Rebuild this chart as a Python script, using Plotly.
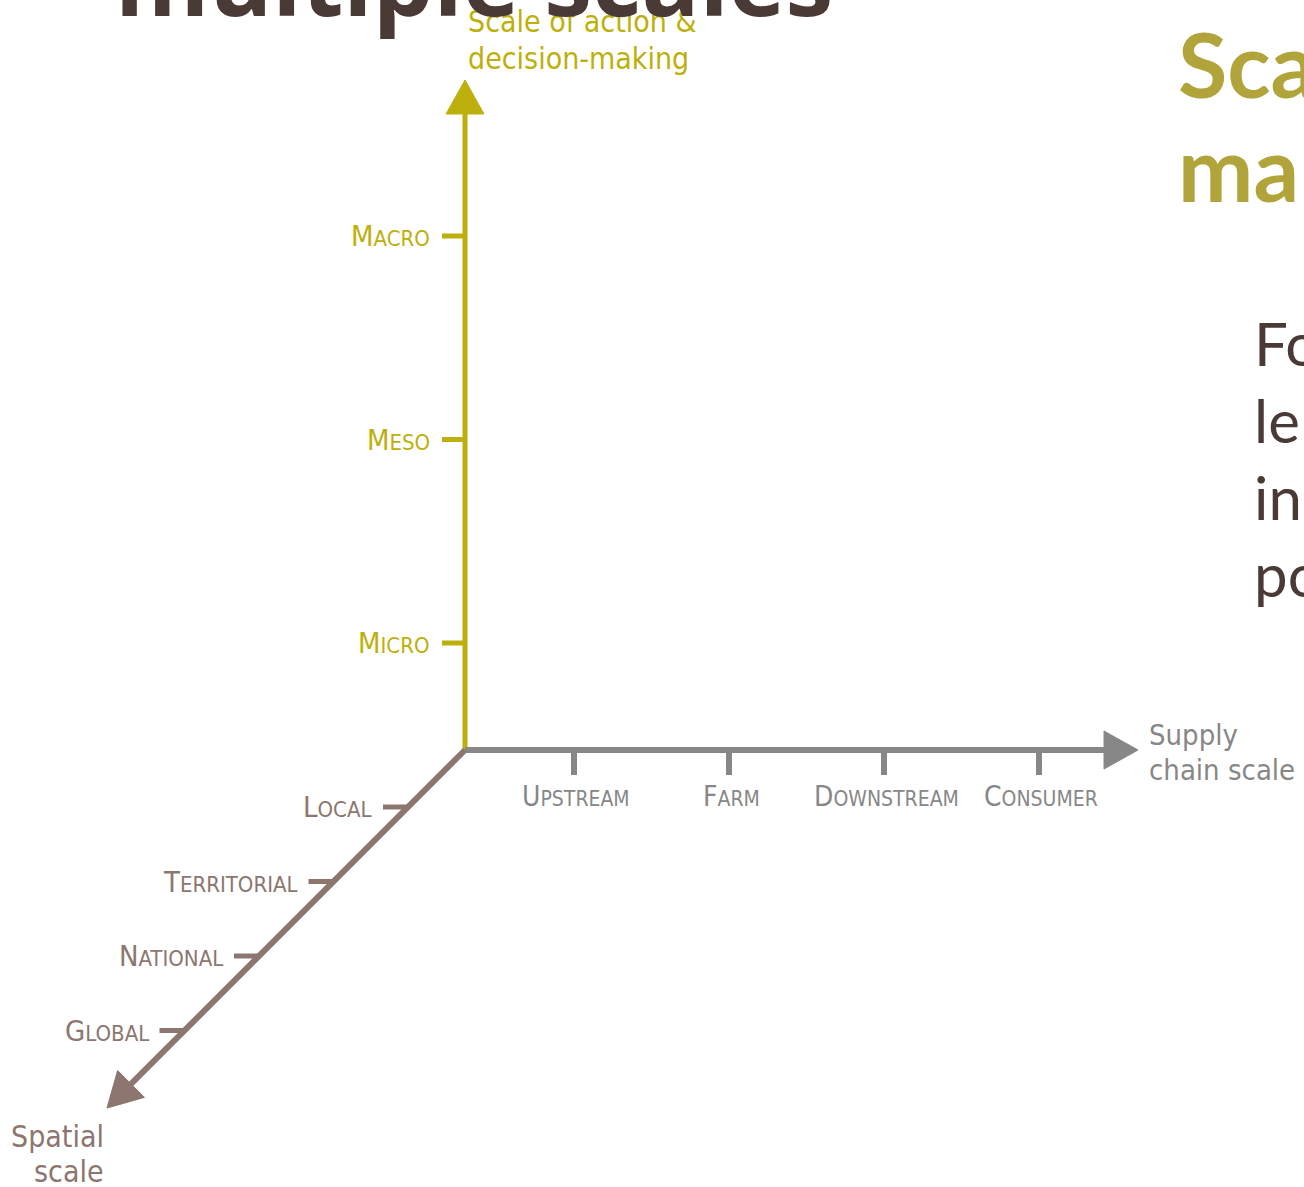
import plotly.graph_objects as go
import numpy as np

# ---------------- data (categories / text) ----------------
action_levels = ["Micro", "Meso", "Macro"]
supply_stages = ["Upstream", "Farm", "Downstream", "Consumer"]
spatial_levels = ["Local", "Territorial", "National", "Global"]

action_title = ["Scale of action &", "decision-making"]
supply_title = ["Supply", "chain scale"]
spatial_title = ["Spatial", "scale"]
slide_title = "multiple scales"
side_heading = ["Sca", "ma"]
side_body = ["Fo", "le", "in", "po"]

# ---------------- layout geometry ----------------
W, H = 1304, 1187
OX, OY = 465, 750
V_TIP = 80
H_TIP = 1138
D_TIP = 358          # diagonal length (both dx and dy)
V_FIRST, V_STEP = 107, 203.5
H_FIRST, H_STEP = 109, 155
D_FIRST, D_STEP = 57, 74.5
TICK = 25
HEAD_L, HEAD_W = 34, 19

C_OLIVE = "#bdb00c"
C_GREY = "#878787"
C_BROWN = "#8c766f"
C_DARK = "#4a3a35"
C_HEAD = "#b0a43a"

LABEL_FONT = "DejaVu Sans Condensed, Liberation Sans Narrow, sans-serif"
SLIDE_FONT = "Lato, Open Sans, sans-serif"
TITLE_FONT = "Open Sans, Lato, sans-serif"

fig = go.Figure()


def line(xs, ys, color, width):
    fig.add_trace(go.Scatter(x=xs, y=ys, mode="lines", hoverinfo="skip",
                             line=dict(color=color, width=width), showlegend=False))


def head(tip, direction, color):
    d = np.array(direction, float)
    d /= np.linalg.norm(d)
    n = np.array([-d[1], d[0]])
    tip = np.array(tip, float)
    base = tip - d * HEAD_L
    p1 = base + n * HEAD_W
    p2 = base - n * HEAD_W
    fig.add_trace(go.Scatter(x=[tip[0], p1[0], p2[0], tip[0]], y=[tip[1], p1[1], p2[1], tip[1]],
                             mode="lines", fill="toself", fillcolor=color, hoverinfo="skip",
                             line=dict(color=color, width=1), showlegend=False))


def smallcaps(word, small):
    return word[0].upper() + f"<span style='font-size:{small}px'>{word[1:].upper()}</span>"


annotations = []


def text(x, y, s, size, color, family=LABEL_FONT, xanchor="left", yanchor="middle", bold=False):
    # texts whose anchor lies outside the drawing range are placed in paper coordinates
    ann = dict(text=s, showarrow=False, xanchor=xanchor, yanchor=yanchor,
               font=dict(size=size, color=color, family=family,
                         weight="bold" if bold else "normal"))
    if 0 <= y <= H:
        ann.update(x=x, y=y, xref="x", yref="y")
    else:
        ann.update(x=x / W, y=1 - y / H, xref="paper", yref="paper")
    annotations.append(ann)


# vertical axis (action)
line([OX, OX], [OY, V_TIP + HEAD_L - 2], C_OLIVE, 5)
head((OX, V_TIP), (0, -1), C_OLIVE)
tx, ty = [], []
for i, lab in enumerate(action_levels):
    y = OY - (V_FIRST + i * V_STEP)
    tx += [OX - 23, OX, None]
    ty += [y, y, None]
    text(OX - 33, y, smallcaps(lab, 22), 29, C_OLIVE, xanchor="right")
line(tx, ty, C_OLIVE, 5)

# horizontal axis (supply chain)
line([OX, H_TIP - HEAD_L + 2], [OY, OY], C_GREY, 6)
head((H_TIP, OY), (1, 0), C_GREY)
tx, ty = [], []
for i, lab in enumerate(supply_stages):
    x = OX + H_FIRST + i * H_STEP
    tx += [x, x, None]
    ty += [OY, OY + TICK, None]
    text(x + 2, OY + 46, smallcaps(lab, 21), 28, C_GREY, xanchor="center")
line(tx, ty, C_GREY, 6)

# diagonal axis (spatial)
k = D_TIP - HEAD_L * 0.7
line([OX, OX - k], [OY, OY + k], C_BROWN, 6)
head((OX - D_TIP, OY + D_TIP), (-1, 1), C_BROWN)
tx, ty = [], []
for i, lab in enumerate(spatial_levels):
    d = D_FIRST + i * D_STEP
    x, y = OX - d, OY + d
    tx += [x - TICK, x, None]
    ty += [y, y, None]
    text(x - TICK - 9, y, smallcaps(lab, 22), 29, C_BROWN, xanchor="right")
line(tx, ty, C_BROWN, 5)

# axis titles
for j, s in enumerate(action_title):
    text(OX + 1, 21 + j * 37, s, 30, C_OLIVE)
for j, s in enumerate(supply_title):
    text(H_TIP + 9, 735 + j * 35, s, 29, C_GREY)
for j, s in enumerate(spatial_title):
    text(106, 1136 + j * 35, s, 30, C_BROWN, xanchor="right")

# slide texts
text(113, -22, slide_title, 96, C_DARK, family=TITLE_FONT, bold=True)
for j, s in enumerate(side_heading):
    text(1176, 63 + j * 104, s, 90, C_HEAD, family=SLIDE_FONT, bold=True)
for j, s in enumerate(side_body):
    text(1252, 343 + j * 77, s, 60, C_DARK, family=SLIDE_FONT)

fig.update_layout(
    width=W, height=H, margin=dict(l=0, r=0, t=0, b=0),
    paper_bgcolor="white", plot_bgcolor="white",
    xaxis=dict(range=[0, W], visible=False, fixedrange=True),
    yaxis=dict(range=[H, 0], visible=False, fixedrange=True),
    annotations=annotations, showlegend=False,
)

fig.write_html("out.html", config={"displayModeBar": False},
               post_script="document.body.style.margin='0';document.body.style.overflow='hidden';")
